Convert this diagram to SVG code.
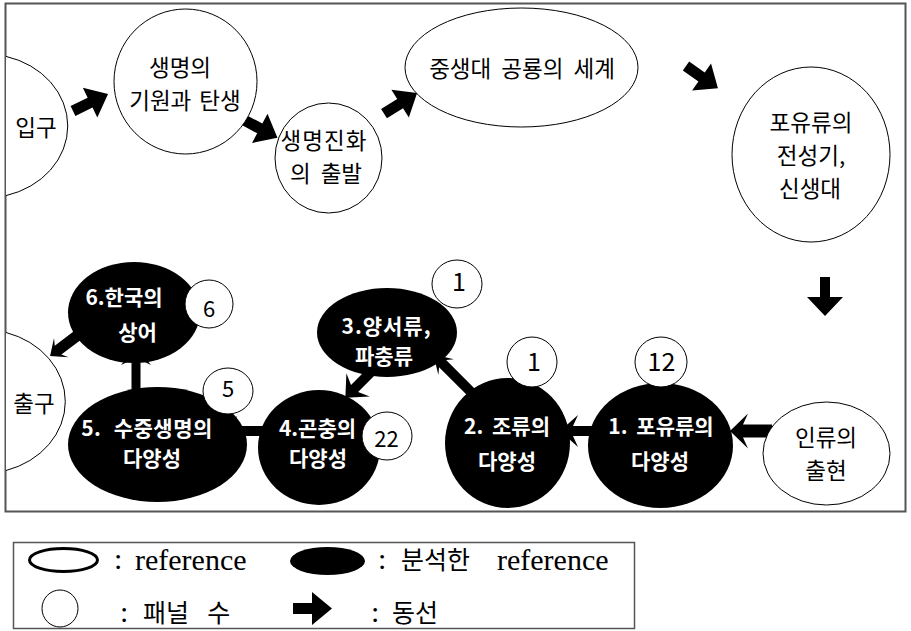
<svg xmlns="http://www.w3.org/2000/svg" width="911" height="631" viewBox="0 0 911 631">
<defs>
<style>
.w{fill:#fff;stroke:#000;stroke-width:1}
.b{fill:#000}
.t{font-family:"Noto Sans CJK KR","Noto Sans",sans-serif;font-size:22.5px;fill:#000;text-anchor:middle}
.bt{font-family:"Noto Sans CJK KR","Noto Sans",sans-serif;font-size:21px;font-weight:bold;fill:#fff;text-anchor:middle}
.n{font-family:"Noto Sans CJK KR","Noto Sans",sans-serif;fill:#000;text-anchor:middle}
.lg{font-family:"Liberation Serif","Noto Sans CJK KR",serif;font-size:30px;fill:#000}
.lk{font-family:"Liberation Serif","Noto Sans CJK KR",serif;font-size:25px;fill:#000}
.arr{fill:#000}
.frame{fill:none;stroke:#555;stroke-width:2}
</style>
<path id="ba" d="M0,-5.5H19V-16.5L39,0L19,16.5V5.5H0Z"/>
</defs>
<rect x="0" y="0" width="911" height="631" fill="#fff"/>
<rect class="frame" x="5.5" y="3.5" width="900" height="508"/>

<g id="connectors" class="arr">
<use href="#ba" transform="translate(73,111) rotate(-26)"/>
<use href="#ba" transform="translate(243,119.5) rotate(28)"/>
<use href="#ba" transform="translate(384,113.7) rotate(-32)"/>
<use href="#ba" transform="translate(686,66) rotate(35)"/>
<path d="M0,-5H20V-18L39,0L20,18V5H0Z" transform="translate(825,277) rotate(90)"/>
<path d="M0,-6.5H29L24,-17.5L42,0L24,17.5L29,6.5H0Z" transform="translate(772,431) rotate(180)"/>
<path d="M0,-5H23L18,-16L36,0L18,16L23,5H0Z" transform="translate(596,431) rotate(180)"/>
<path d="M0,-5H43L38,-11L56,0L38,11L43,5H0Z" transform="translate(473,394) rotate(225)"/>
<path d="M0,-5H36L31,-16.5L49,0L31,16.5L36,5H0Z" transform="translate(380,363) rotate(135)"/>
<path d="M0,-5H34L29,-15L47,0L29,15L34,5H0Z" transform="translate(266,431) rotate(180)"/>
<path d="M0,-4.5H32L27,-15L45,0L27,15L32,4.5H0Z" transform="translate(136,392) rotate(-90)"/>
<path d="M0,-5.5H40L36,-12L50,0L36,12L40,5.5H0Z" transform="translate(90,326) rotate(143)"/>
</g>

<g id="entrance">
<path class="w" d="M6,56.4A83,72 0 0 1 6,195.6"/>
<text class="t" x="36" y="135.5">입구</text>
</g>
<g id="origin">
<ellipse class="w" cx="185.5" cy="81.5" rx="71.5" ry="72.5"/>
<text class="t" x="180" y="75.5">생명의</text>
<text class="t" x="185" y="109" word-spacing="3">기원과 탄생</text>
</g>
<g id="evolution">
<ellipse class="w" cx="328.5" cy="158" rx="53.5" ry="55"/>
<text class="t" x="324" y="149" letter-spacing="1">생명진화</text>
<text class="t" x="326" y="182" word-spacing="5">의 출발</text>
</g>
<g id="mesozoic">
<ellipse class="w" cx="521.5" cy="67.5" rx="116.5" ry="59.5"/>
<text class="t" x="522" y="77" word-spacing="5">중생대 공룡의 세계</text>
</g>
<g id="cenozoic">
<ellipse class="w" cx="811" cy="154.5" rx="79" ry="87.5"/>
<text class="t" x="811" y="131">포유류의</text>
<text class="t" x="811" y="164">전성기,</text>
<text class="t" x="810" y="197">신생대</text>
</g>
<g id="human">
<ellipse class="w" cx="826.5" cy="453.5" rx="63.5" ry="51.5"/>
<text class="t" x="826" y="445.5">인류의</text>
<text class="t" x="826" y="479">출현</text>
</g>
<g id="exit">
<path class="w" d="M6,332.5A83,72 0 0 1 6,470.5"/>
<text class="t" x="34" y="411.5">출구</text>
</g>

<g id="mammal">
<ellipse class="b" cx="660.5" cy="445.5" rx="72.5" ry="62.5"/>
<text class="bt" x="661" y="434" word-spacing="4">1. 포유류의</text>
<text class="bt" x="660" y="468.5">다양성</text>
</g>
<g id="bird">
<ellipse class="b" cx="507.5" cy="443" rx="62.5" ry="65"/>
<text class="bt" x="507" y="434" word-spacing="4">2. 조류의</text>
<text class="bt" x="507" y="468.5">다양성</text>
</g>
<g id="amphibian">
<ellipse class="b" cx="387" cy="332.5" rx="70" ry="44.5"/>
<text class="bt" x="386.5" y="334" font-size="20" letter-spacing="1">3.양서류,</text>
<text class="bt" x="384" y="363.5" font-size="20">파충류</text>
</g>
<g id="insect">
<ellipse class="b" cx="319" cy="447.5" rx="61" ry="57.5"/>
<text class="bt" x="317.5" y="435.5">4.곤충의</text>
<text class="bt" x="318" y="465.5">다양성</text>
</g>
<g id="aquatic">
<ellipse class="b" cx="157.5" cy="444.5" rx="89.5" ry="57.5"/>
<text class="bt" x="147" y="435.5" word-spacing="7" letter-spacing="0.5">5. 수중생명의</text>
<text class="bt" x="152" y="465.5">다양성</text>
</g>
<g id="shark">
<ellipse class="b" cx="134" cy="312.5" rx="66" ry="50.5"/>
<text class="bt" x="124" y="304.5" font-size="22.5">6.한국의</text>
<text class="bt" x="137.5" y="339.5">상어</text>
</g>

<g id="count-12">
<ellipse class="w" cx="661" cy="362" rx="26" ry="25"/>
<text class="n" x="661.5" y="371" font-size="25">12</text>
</g>
<g id="count-bird">
<circle class="w" cx="532" cy="362" r="25"/>
<text class="n" x="534" y="371" font-size="25">1</text>
</g>
<g id="count-amphibian">
<ellipse class="w" cx="457" cy="284" rx="25" ry="24"/>
<text class="n" x="459" y="291" font-size="25">1</text>
</g>
<g id="count-22">
<ellipse class="w" cx="387" cy="436" rx="25" ry="24"/>
<text class="n" x="386.5" y="446.5" font-size="22">22</text>
</g>
<g id="count-5">
<ellipse class="w" cx="228" cy="391" rx="25" ry="23"/>
<text class="n" x="228" y="396.5" font-size="22">5</text>
</g>
<g id="count-6">
<circle class="w" cx="209" cy="304" r="24"/>
<text class="n" x="209" y="316.5" font-size="22">6</text>
</g>

<g id="legend">
<rect x="13.5" y="542.5" width="621" height="86" fill="#fff" stroke="#555" stroke-width="1.5"/>
<ellipse cx="63.5" cy="560" rx="34" ry="11.5" fill="#fff" stroke="#000" stroke-width="3"/>
<text class="lg" x="114" y="569">:</text>
<text class="lg" x="135" y="570">reference</text>
<ellipse cx="327.5" cy="561" rx="37.5" ry="14" fill="#000"/>
<text class="lg" x="378" y="569">:</text>
<text class="lk" x="401" y="569">분석한</text>
<text class="lg" x="497" y="570">reference</text>
<ellipse cx="60" cy="608.5" rx="18" ry="18.5" fill="#fff" stroke="#000" stroke-width="1"/>
<text class="lg" x="120" y="622">:</text>
<text class="lk" x="143" y="622" word-spacing="12">패널 수</text>
<use href="#ba" transform="translate(293,608.5)"/>
<text class="lg" x="371" y="622">:</text>
<text class="lk" x="392" y="622">동선</text>
</g>
</svg>
